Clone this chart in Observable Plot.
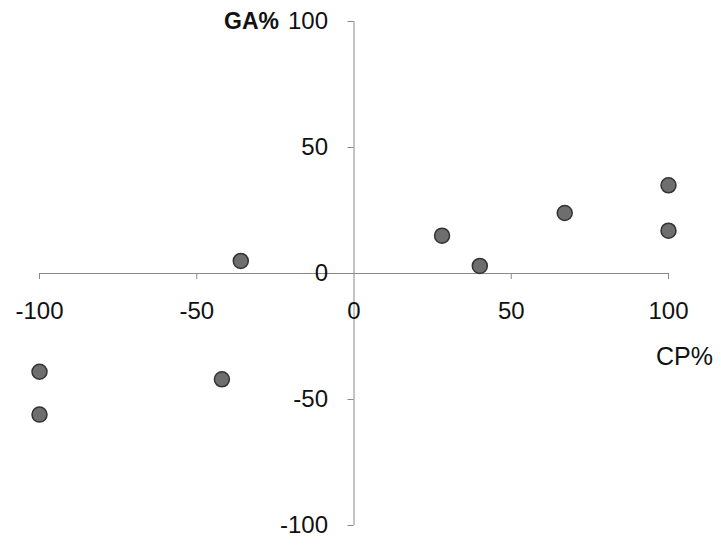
<!DOCTYPE html>
<html>
<head>
<meta charset="utf-8">
<script src="https://cdn.jsdelivr.net/npm/d3@7"></script>
<script src="https://cdn.jsdelivr.net/npm/@observablehq/plot@0.6"></script>
<style>
  html, body { margin: 0; padding: 0; background: #fff; }
  svg { display: block; }
</style>
</head>
<body>
<div id="chart"></div>
<script>
const cp = [-100, -100, -42, -36, 28, 40, 67, 100, 100];
const ga = [-39, -56, -42, 5, 15, 3, 24, 35, 17];
const xTicks = [-100, -50, 0, 50, 100];
const yTicks = [-100, -50, 0, 50, 100];
const xLabel = "CP%";
const yLabel = "GA%";

const data = cp.map((x, i) => ({x, y: ga[i]}));
const [xmin, xmax] = d3.extent(xTicks);
const [ymin, ymax] = d3.extent(yTicks);
const axisColor = "#8a8a8a";
const font = "Liberation Sans, Arial, sans-serif";

const plot = Plot.plot({
  width: 721,
  height: 545,
  marginLeft: 39,
  marginRight: 53,
  marginTop: 21,
  marginBottom: 20,
  style: {fontFamily: font, background: "#fff", overflow: "visible"},
  x: {domain: [xmin, xmax], axis: null},
  y: {domain: [ymin, ymax], axis: null},
  marks: [
    // axes lines
    Plot.ruleY([0], {x1: () => xmin, x2: () => xmax, stroke: axisColor, strokeWidth: 1}),
    Plot.ruleX([0], {y1: () => ymin, y2: () => ymax, stroke: axisColor, strokeWidth: 1}),
    // x ticks (downward)
    Plot.ruleX(xTicks.filter(d => d !== 0), {x: d => d, y1: () => 0, y2: () => 0, insetBottom: -6, stroke: axisColor}),
    // y ticks (leftward)
    Plot.ruleY(yTicks, {y: d => d, x1: () => 0, x2: () => 0, insetLeft: -6, stroke: axisColor}),
    // x tick labels
    Plot.text(xTicks, {x: d => d, y: () => 0, dy: 38, text: d => String(d), fontSize: 24, fill: "#111"}),
    // y tick labels
    Plot.text(yTicks, {x: () => 0, y: d => d, dx: -26, text: d => String(d), textAnchor: "end", fontSize: 24, fill: "#111"}),
    // axis titles
    Plot.text([yLabel], {x: () => 0, y: () => ymax, dx: -75, text: d => d, textAnchor: "end", fontSize: 23, fontWeight: "bold", fill: "#111"}),
    Plot.text([xLabel], {x: () => xmax, y: () => 0, dx: 16, dy: 83, text: d => d, fontSize: 25, fill: "#111"}),
    // points
    Plot.dot(data, {x: "x", y: "y", r: 7.5, fill: "#6e6e6e", stroke: "#333", strokeWidth: 1.5})
  ]
});
document.getElementById("chart").appendChild(plot);
</script>
</body>
</html>
